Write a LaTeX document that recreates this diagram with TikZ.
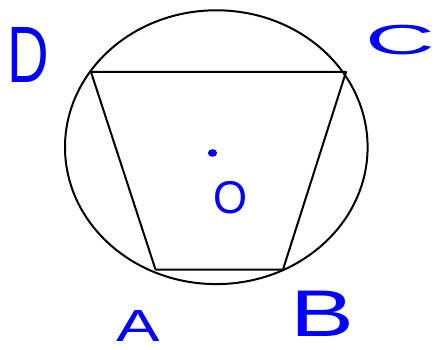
\documentclass[tikz,border=0pt]{standalone}
\usepackage{fontspec}
\setmainfont{Liberation Sans}
\begin{document}
\begin{tikzpicture}[x=1pt,y=-1pt,
  edge/.style={line width=2pt,line join=round},
  lbl/.style={text=blue,inner sep=0pt,outer sep=0pt,anchor=center,text depth=0pt},
]
\useasboundingbox (0,0) rectangle (434,350);
% circle (slightly elliptical, as drawn)
\draw[line width=2pt] (216.3,147.2) ellipse [x radius=151.3, y radius=136.9];
% vertices
\coordinate (D) at (91,72);
\coordinate (C) at (346,72);
\coordinate (B) at (283,269.5);
\coordinate (A) at (155.5,269.5);
\draw[edge] (D) -- (C) -- (B) -- (A) -- cycle;
% centre mark
\fill[blue] (212.5,153) ellipse [x radius=4.5, y radius=3.8];
% labels
\node[lbl,xscale=0.72,text height=57pt,font=\fontsize{80}{80}\selectfont] (lD) at (28,54) {D};
\node[lbl,xscale=2.3,text height=30pt,font=\fontsize{42}{42}\selectfont] (lC) at (400,40) {C};
\node[lbl,xscale=0.95,text height=33pt,font=\fontsize{46}{46}\selectfont] (lO) at (230,197) {O};
\node[lbl,xscale=1.45,text height=32pt,font=\fontsize{45}{45}\selectfont] (lA) at (138,325) {A};
\node[lbl,xscale=1.45,text height=47pt,font=\fontsize{66}{66}\selectfont] (lB) at (322,313) {B};
\end{tikzpicture}
\end{document}
